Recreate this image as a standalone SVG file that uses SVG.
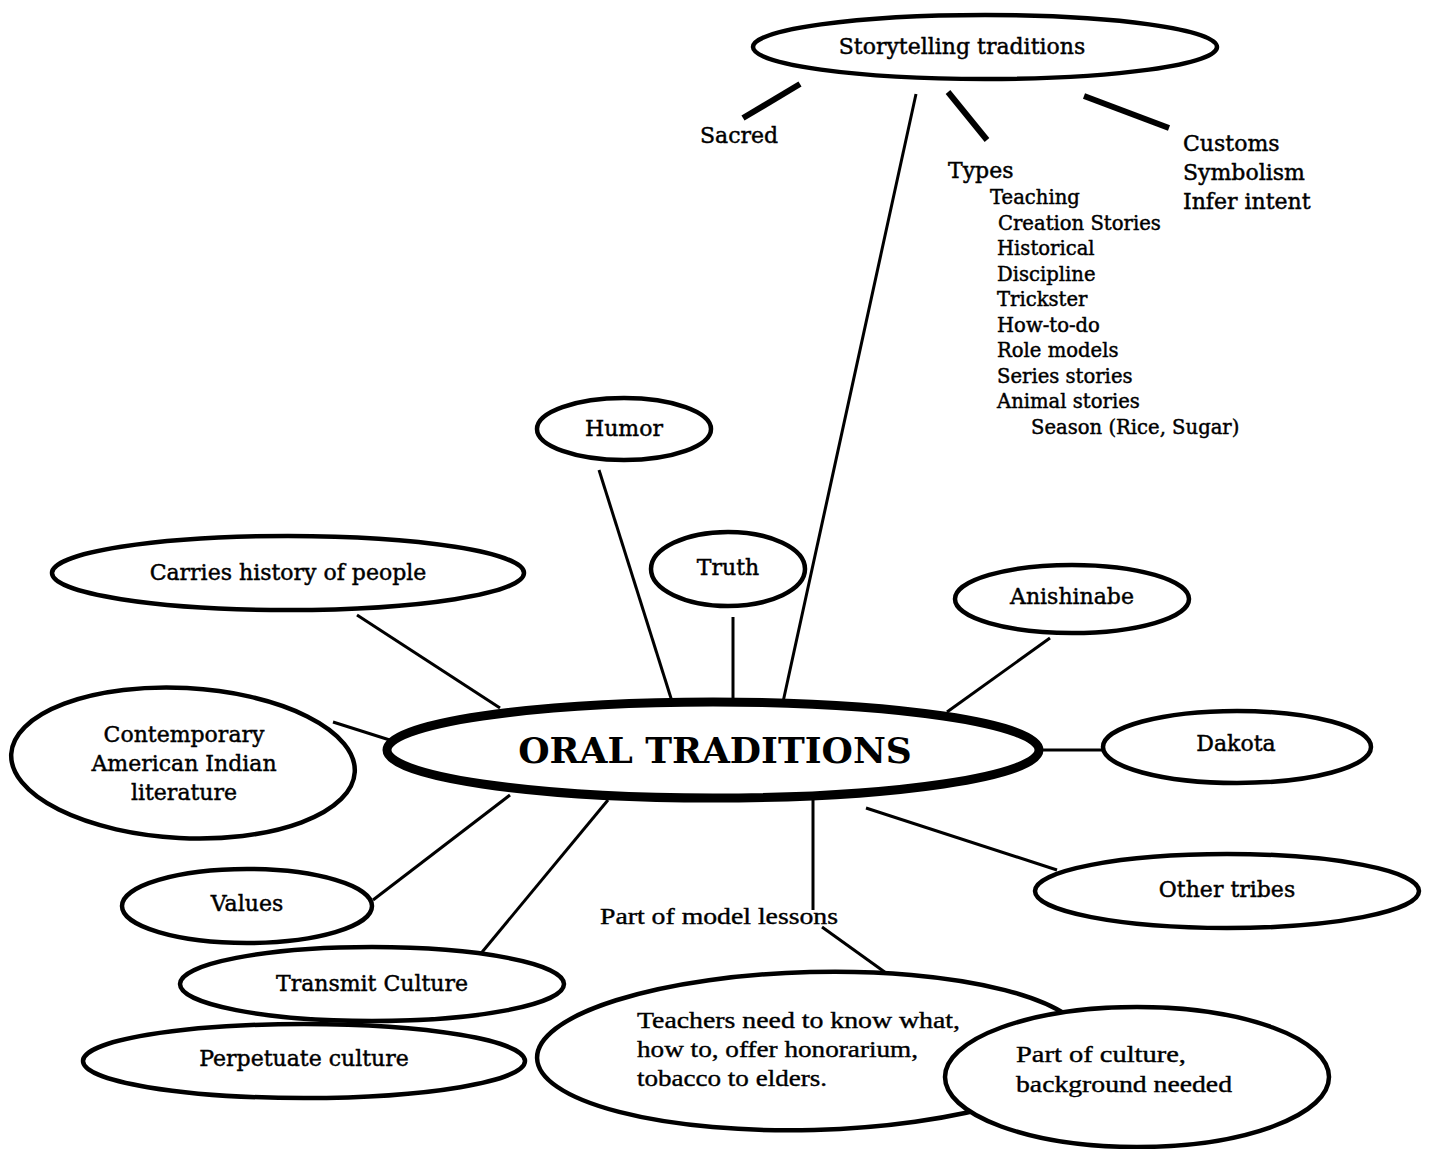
<svg xmlns="http://www.w3.org/2000/svg" width="1431" height="1149" viewBox="0 0 1431 1149">
<style>
.n{fill:#fff;stroke:#000;stroke-width:4.5}
.t{font-family:"DejaVu Serif","Liberation Serif",serif;font-size:22px;fill:#000;stroke:#000;stroke-width:0.45}
.s{font-size:19.6px}
.c{text-anchor:middle}
.tt{font-family:"Liberation Serif","Times New Roman",serif;font-size:24px;fill:#000;stroke:#000;stroke-width:0.4}
.l{stroke:#000;stroke-width:3;fill:none}
.k{stroke:#000;stroke-width:6;fill:none}
</style>
<rect width="1431" height="1149" fill="#fff"/>
<g id="connectors">
<line class="k" x1="800" y1="84" x2="743" y2="118"/>
<line class="l" x1="916" y1="94" x2="783" y2="702"/>
<line class="k" x1="948" y1="92" x2="987" y2="140"/>
<line class="k" x1="1084" y1="96" x2="1169" y2="128"/>
<line class="l" x1="599" y1="470" x2="676" y2="714"/>
<line class="l" x1="733" y1="617" x2="733" y2="698"/>
<line class="l" x1="357" y1="615" x2="500" y2="708"/>
<line class="l" x1="333" y1="722" x2="415" y2="748"/>
<line class="l" x1="1050" y1="638" x2="947" y2="712"/>
<line class="l" x1="1040" y1="750" x2="1104" y2="750"/>
<line class="l" x1="866" y1="808" x2="1057" y2="870"/>
<line class="l" x1="510" y1="795" x2="373" y2="900"/>
<line class="l" x1="608" y1="800" x2="478" y2="957"/>
<line class="l" x1="813" y1="800" x2="813" y2="910"/>
<line class="l" x1="822" y1="927" x2="893" y2="978"/>
</g>
<g id="storytelling">
<ellipse class="n" cx="985" cy="47" rx="232" ry="32"/>
<text class="t c" x="962" y="54">Storytelling traditions</text>
</g>
<g id="sacred"><text class="t" x="700" y="143" font-size="21">Sacred</text></g>
<g id="types">
<text class="t" x="948" y="178" font-size="21">Types</text>
<text class="t s" x="990" y="204">Teaching</text>
<text class="t s" x="998" y="230">Creation Stories</text>
<text class="t s" x="997" y="255">Historical</text>
<text class="t s" x="997" y="281">Discipline</text>
<text class="t s" x="997" y="306">Trickster</text>
<text class="t s" x="997" y="332">How-to-do</text>
<text class="t s" x="997" y="357">Role models</text>
<text class="t s" x="997" y="383">Series stories</text>
<text class="t s" x="997" y="408">Animal stories</text>
<text class="t s" x="1031" y="434">Season (Rice, Sugar)</text>
</g>
<g id="customs">
<text class="t" x="1183" y="151">Customs</text>
<text class="t" x="1183" y="180">Symbolism</text>
<text class="t" x="1183" y="209">Infer intent</text>
</g>
<g id="humor"><ellipse class="n" cx="624" cy="429" rx="87" ry="31"/><text class="t c" x="624" y="436">Humor</text></g>
<g id="truth"><ellipse class="n" cx="728" cy="569" rx="77" ry="37"/><text class="t c" x="728" y="575">Truth</text></g>
<g id="carries"><ellipse class="n" cx="288" cy="573" rx="236" ry="37"/><text class="t c" x="288" y="580">Carries history of people</text></g>
<g id="contemporary"><ellipse class="n" cx="183" cy="763" rx="172" ry="75" transform="rotate(3 183 763)"/>
<text class="t c" x="184" y="742">Contemporary</text>
<text class="t c" x="184" y="771">American Indian</text>
<text class="t c" x="184" y="800">literature</text></g>
<g id="oral"><ellipse cx="713" cy="750" rx="326" ry="48" fill="#fff" stroke="#000" stroke-width="9"/>
<text x="715" y="763" font-family="DejaVu Serif,Liberation Serif,serif" font-size="36" font-weight="bold" text-anchor="middle">ORAL TRADITIONS</text></g>
<g id="anishinabe"><ellipse class="n" cx="1072" cy="599" rx="117" ry="34"/><text class="t c" x="1072" y="604">Anishinabe</text></g>
<g id="dakota"><ellipse class="n" cx="1237" cy="747" rx="134" ry="36"/><text class="t c" x="1236" y="751">Dakota</text></g>
<g id="other"><ellipse class="n" cx="1227" cy="891" rx="192" ry="37"/><text class="t c" x="1227" y="897">Other tribes</text></g>
<g id="values"><ellipse class="n" cx="247" cy="906" rx="125" ry="37"/><text class="t c" x="247" y="911">Values</text></g>
<g id="transmit"><ellipse class="n" cx="372" cy="984" rx="192" ry="37"/><text class="t c" x="372" y="991">Transmit Culture</text></g>
<g id="perpetuate"><ellipse class="n" cx="304" cy="1061" rx="221" ry="37"/><text class="t c" x="304" y="1066">Perpetuate culture</text></g>
<g id="model"><text class="tt" x="600" y="924" textLength="238" lengthAdjust="spacingAndGlyphs">Part of model lessons</text></g>
<g id="teachers"><ellipse class="n" cx="812" cy="1051" rx="275" ry="79" transform="rotate(-1.5 812 1051)"/>
<text class="tt" x="637" y="1028" textLength="323" lengthAdjust="spacingAndGlyphs">Teachers need to know what,</text>
<text class="tt" x="637" y="1057" textLength="281" lengthAdjust="spacingAndGlyphs">how to, offer honorarium,</text>
<text class="tt" x="637" y="1086" textLength="190" lengthAdjust="spacingAndGlyphs">tobacco to elders.</text></g>
<g id="partculture"><ellipse class="n" cx="1137" cy="1077" rx="192" ry="70"/>
<text class="tt" x="1016" y="1062" textLength="170" lengthAdjust="spacingAndGlyphs">Part of culture,</text>
<text class="tt" x="1016" y="1092" textLength="216" lengthAdjust="spacingAndGlyphs">background needed</text></g>
</svg>
